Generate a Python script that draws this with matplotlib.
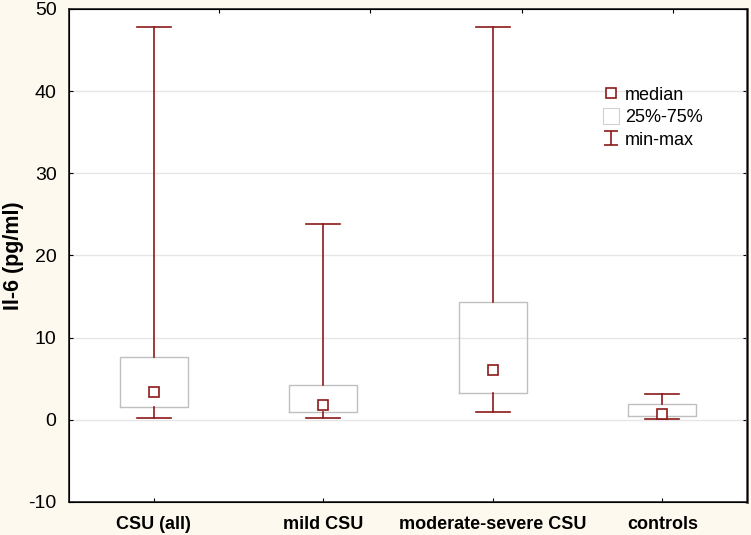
import matplotlib
matplotlib.use('Agg')
import matplotlib.pyplot as plt
from matplotlib.lines import Line2D
from matplotlib.path import Path

plt.rcParams['font.family'] = ['Liberation Sans', 'DejaVu Sans']
plt.rcParams['axes.unicode_minus'] = False

groups = ['CSU (all)', 'mild CSU', 'moderate-severe CSU', 'controls']
mins = [0.25, 0.2, 1.0, 0.1]
q1s = [1.6, 1.0, 3.3, 0.5]
medians = [3.4, 1.8, 6.1, 0.7]
q3s = [7.7, 4.2, 14.3, 1.9]
maxs = [47.8, 23.8, 47.8, 3.2]

red = '#8B1A1A'
boxgray = '#C0C0C0'
bg = '#FDF9EF'

stats = []
for g, lo, a, m, b, hi in zip(groups, mins, q1s, medians, q3s, maxs):
    stats.append({'label': g, 'whislo': lo, 'q1': a, 'med': m, 'mean': m,
                  'q3': b, 'whishi': hi, 'fliers': []})

fig = plt.figure(figsize=(7.51, 5.35), dpi=100, facecolor=bg)
ax = fig.add_axes([0.0919, 0.0617, 0.9028, 0.9215])
ax.set_facecolor('white')

ax.bxp(stats, positions=[1, 2, 3, 4], widths=0.4, capwidths=0.2,
       showmeans=True, meanline=False,
       boxprops=dict(color=boxgray, linewidth=1.0),
       whiskerprops=dict(color=red, linewidth=1.2),
       capprops=dict(color=red, linewidth=1.2),
       medianprops=dict(linestyle='none'),
       meanprops=dict(marker='s', markersize=6.5, markerfacecolor='white',
                      markeredgecolor=red, markeredgewidth=1.2),
       zorder=3)

ax.set_xlim(0.5, 4.5)
ax.set_ylim(-10, 50)
ax.set_yticks(range(-10, 51, 10))
ax.yaxis.grid(True, color='#E6E6E6', linewidth=1.0, zorder=0)
ax.set_axisbelow(True)

ax.tick_params(axis='y', direction='in', length=3, labelsize=14, right=True, pad=9)
ax.tick_params(axis='x', direction='in', length=3, labelsize=13, pad=10)
for lab in ax.get_xticklabels():
    lab.set_fontweight('bold')
ax.set_ylabel('Il-6 (pg/ml)', fontsize=15.5, fontweight='bold')
ax.yaxis.set_label_coords(-0.0664, 0.5)

for s in ['left', 'bottom', 'top']:
    ax.spines[s].set_color('#222222')
    ax.spines[s].set_linewidth(1.2)
ax.spines['right'].set_color('#555555')
ax.spines['right'].set_linewidth(2.0)

top = ax.twiny()
top.set_xlim(ax.get_xlim())
top.set_xticks([1.385, 2.276, 3.173, 4.064])
top.tick_params(axis='x', direction='in', length=3, labeltop=False)

# legend
ibeam = Path([(-1, 1), (1, 1), (0, 1), (0, -1), (-1, -1), (1, -1)],
             [Path.MOVETO, Path.LINETO, Path.MOVETO, Path.LINETO,
              Path.MOVETO, Path.LINETO])
legend_elements = [
    Line2D([0], [0], linestyle='none', marker='s', markersize=6.5,
           markerfacecolor='white', markeredgecolor=red, markeredgewidth=1.2,
           label='median'),
    Line2D([0], [0], linestyle='none', marker='s', markersize=12,
           markerfacecolor='white', markeredgecolor='#D0D0D0', markeredgewidth=0.8,
           label='25%-75%'),
    Line2D([0], [0], linestyle='none', marker=ibeam, markersize=10,
           markerfacecolor='none', markeredgecolor=red, markeredgewidth=1.2,
           label='min-max'),
]
ax.legend(handles=legend_elements, loc='upper left', bbox_to_anchor=(0.775, 0.857),
          frameon=False, fontsize=13, handlelength=1.0, handletextpad=0.3,
          labelspacing=0.3, borderaxespad=0)

fig.savefig('out.png', dpi=100, facecolor=bg)
